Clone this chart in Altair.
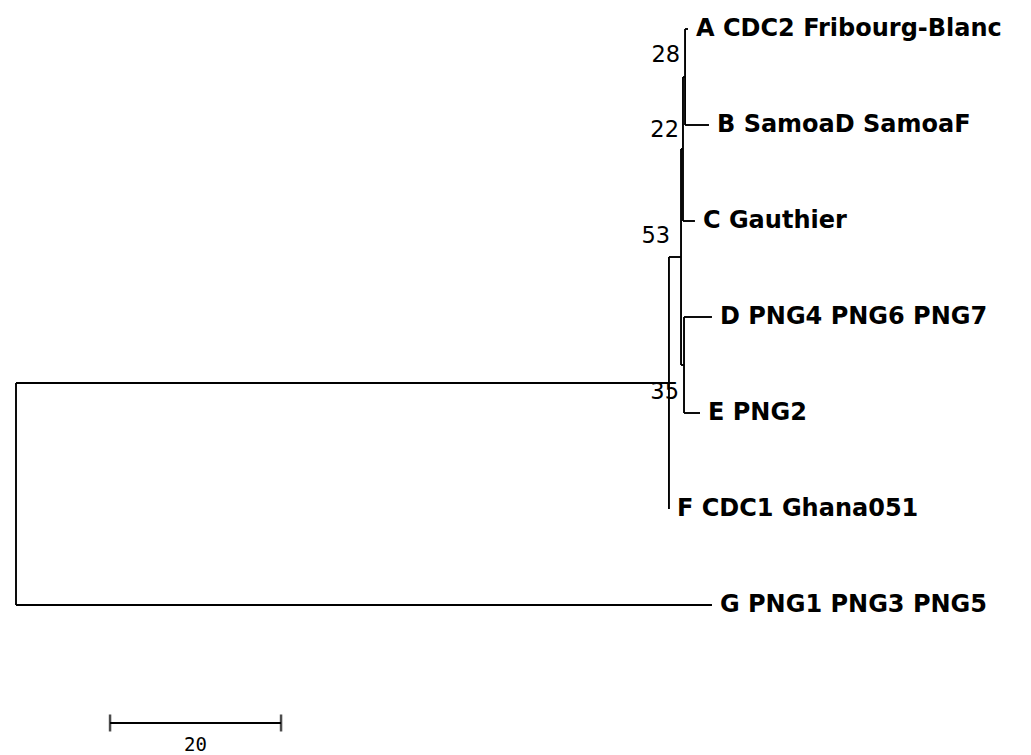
import altair as alt
import pandas as pd

# ---- tree data (depth in distance units from the root) ----
node_ids     = ["root", "n35", "n53", "nABC", "nAB", "nDE", "A", "B", "C", "D", "E", "F", "G"]
node_parent  = [None,   "root", "n35", "n53", "nABC", "n53", "nAB", "nAB", "nABC", "nDE", "nDE", "n35", "root"]
node_depth   = [0.0,    76.37,  77.78, 78.01, 78.25, 78.13, 78.60, 81.05, 79.41, 81.40, 80.00, 76.37, 81.40]
leaf_labels  = ["A CDC2 Fribourg-Blanc", "B SamoaD SamoaF", "C Gauthier",
                "D PNG4 PNG6 PNG7", "E PNG2", "F CDC1 Ghana051", "G PNG1 PNG3 PNG5"]
leaf_ids     = ["A", "B", "C", "D", "E", "F", "G"]
support_node = ["nAB", "nABC", "n53", "n35"]
support_val  = ["28", "22", "53", "35"]
scale_bar_start = 11.0
scale_bar_len = 20
scale_bar_label = "20"

# ---- layout ----
depth = dict(zip(node_ids, node_depth))
parent = dict(zip(node_ids, node_parent))
children = {n: [c for c in node_ids if parent[c] == n] for n in node_ids}
ypos = {leaf: i for i, leaf in enumerate(leaf_ids)}

def get_y(n):
    if n in ypos:
        return ypos[n]
    ys = [get_y(c) for c in children[n]]
    ypos[n] = (min(ys) + max(ys)) / 2
    return ypos[n]

for n in node_ids:
    get_y(n)

segs = []
for n in node_ids:
    p = parent[n]
    if p is not None:
        segs.append(dict(x=depth[p], x2=depth[n], y=ypos[n], y2=ypos[n]))
    if children[n]:
        ys = [ypos[c] for c in children[n]]
        segs.append(dict(x=depth[n], x2=depth[n], y=min(ys), y2=max(ys)))
seg_df = pd.DataFrame(segs)

leaf_df = pd.DataFrame(dict(x=[depth[l] for l in leaf_ids], y=[ypos[l] for l in leaf_ids], label=leaf_labels))
sup_df = pd.DataFrame(dict(x=[depth[n] for n in support_node], y=[ypos[n] for n in support_node],
                           label=support_val))

SB_Y = 7.229
sb_df = pd.DataFrame(dict(x=[scale_bar_start], x2=[scale_bar_start + scale_bar_len], y=[SB_Y]))
sb_ticks = pd.DataFrame(dict(x=[scale_bar_start, scale_bar_start + scale_bar_len], y=[SB_Y, SB_Y]))
sb_text = pd.DataFrame(dict(x=[scale_bar_start + scale_bar_len / 2], y=[SB_Y], label=[scale_bar_label]))

W, H = 1015, 746
xs = alt.Scale(domain=[-8 / 8.55, (W - 8) / 8.55], nice=False, zero=False)
ys = alt.Scale(domain=[-21 / 96, (H - 21) / 96], nice=False, zero=False, reverse=True)
X = lambda f="x": alt.X(f"{f}:Q", scale=xs, axis=None)
Y = lambda f="y": alt.Y(f"{f}:Q", scale=ys, axis=None)

lines = alt.Chart(seg_df).mark_rule(color="#000000", strokeWidth=1.9).encode(
    x=X(), x2="x2:Q", y=Y(), y2="y2:Q")

leaf_text = alt.Chart(leaf_df).mark_text(
    align="left", baseline="middle", dx=8, dy=0, font="DejaVu Sans", fontWeight="bold",
    fontSize=24, color="#000000").encode(x=X(), y=Y(), text="label:N")

offsets = {"28": (-5, -22), "22": (-4, -19), "53": (-11, -21), "35": (10, 9)}
sup_layers = []
for v in support_val:
    dx, dy = offsets[v]
    sup_layers.append(
        alt.Chart(sup_df[sup_df.label == v]).mark_text(
            align="right", baseline="middle", dx=dx, dy=dy, font="DejaVu Sans",
            fontSize=22.5, color="#000000").encode(x=X(), y=Y(), text="label:N"))

sb_line = alt.Chart(sb_df).mark_rule(color="#000000", strokeWidth=2.2).encode(x=X(), x2="x2:Q", y=Y())
sb_tick = alt.Chart(sb_ticks).mark_tick(orient="vertical", size=17, thickness=2.5, color="#000000").encode(
    x=X(), y=Y())
sb_lab = alt.Chart(sb_text).mark_text(align="center", baseline="middle", dy=22, font="DejaVu Sans Mono",
                                      fontSize=19, color="#000000").encode(x=X(), y=Y(), text="label:N")

chart = alt.layer(lines, leaf_text, *sup_layers, sb_line, sb_tick, sb_lab).properties(
    width=W, height=H, autosize=alt.AutoSizeParams(type="none"), padding=0,
    background="white").configure_view(stroke=None)

chart.save("out.html", embed_options={"renderer": "svg", "actions": False})
